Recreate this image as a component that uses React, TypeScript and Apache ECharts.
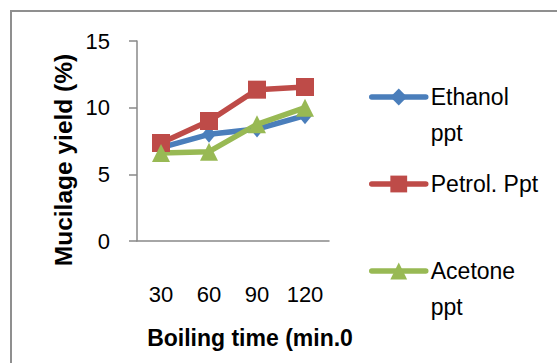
import React, { useEffect, useRef } from "react";
import * as echarts from "echarts";

const categories = ["30", "60", "90", "120"];
const ethanolPpt = [7.0, 8.0, 8.4, 9.4];
const petrolPpt = [7.35, 9.0, 11.35, 11.55];
const acetonePpt = [6.6, 6.7, 8.75, 10.0];
const seriesNames = ["Ethanol ppt", "Petrol. Ppt", "Acetone ppt"];
const yTicks = { min: 0, max: 15, interval: 5 };

const FONT = "'Liberation Sans', Arial, sans-serif";

export default function App() {
  const ref = useRef<HTMLDivElement>(null);
  useEffect(() => {
    document.body.style.margin = "0";
    const chart = echarts.init(ref.current!, null, { renderer: "svg" });
    const lineSeries = (name: string, data: number[], color: string, symbol: string, size: any) => ({
      name,
      type: "line",
      data,
      symbol,
      symbolSize: size,
      color,
      lineStyle: { width: 5.5, color, cap: "round", join: "round" },
      itemStyle: { color },
    });
    chart.setOption({
      animation: false,
      backgroundColor: "#ffffff",
      textStyle: { fontFamily: FONT },
      graphic: [
        {
          type: "rect",
          shape: { x: 11, y: 11, width: 620, height: 420 },
          style: { fill: "none", stroke: "#8f8f8f", lineWidth: 2 },
          silent: true,
        },
      ],
      grid: { left: 137, top: 41, width: 192, height: 200 },
      xAxis: {
        type: "category",
        data: categories,
        boundaryGap: true,
        axisLine: { lineStyle: { color: "#898989", width: 1.5 } },
        axisTick: { length: 8, lineStyle: { color: "#898989", width: 1.5 } },
        axisLabel: { margin: 42, fontSize: 22, color: "#000", fontFamily: FONT },
        name: "Boiling time (min.0",
        nameLocation: "middle",
        nameGap: 85,
        nameTextStyle: {
          fontSize: 23,
          fontWeight: "bold",
          color: "#000",
          fontFamily: FONT,
          padding: [0, 0, 0, 34],
        },
      },
      yAxis: {
        type: "value",
        min: yTicks.min,
        max: yTicks.max,
        interval: yTicks.interval,
        splitLine: { show: false },
        axisLine: { show: true, lineStyle: { color: "#898989", width: 1.5 } },
        axisTick: { show: true, length: 8, lineStyle: { color: "#898989", width: 1.5 } },
        axisLabel: { margin: 27, fontSize: 22, color: "#000", fontFamily: FONT },
        name: "Mucilage yield (%)",
        nameLocation: "middle",
        nameGap: 61,
        nameTextStyle: {
          fontSize: 24.5,
          fontWeight: "bold",
          color: "#000",
          fontFamily: FONT,
          padding: [0, 38, 0, 0],
        },
      },
      legend: {
        orient: "vertical",
        left: 369,
        top: 43,
        padding: 0,
        itemGap: 15,
        itemWidth: 54,
        itemHeight: 21,
        data: seriesNames,
        lineStyle: { width: 5.5, cap: "round" },
        formatter: (name: string) =>
          name === "Petrol. Ppt" ? name : "\n" + name.replace(" ", "\n"),
        textStyle: { fontSize: 23, lineHeight: 36, color: "#000", fontFamily: FONT },
      },
      series: [
        lineSeries(seriesNames[0], ethanolPpt, "#4A7EBB", "diamond", [14, 17]),
        lineSeries(seriesNames[1], petrolPpt, "#BE4B48", "rect", 18),
        lineSeries(seriesNames[2], acetonePpt, "#98B954", "triangle", 18),
      ],
    });
    return () => chart.dispose();
  }, []);
  return <div ref={ref} style={{ width: 557, height: 363 }} />;
}
